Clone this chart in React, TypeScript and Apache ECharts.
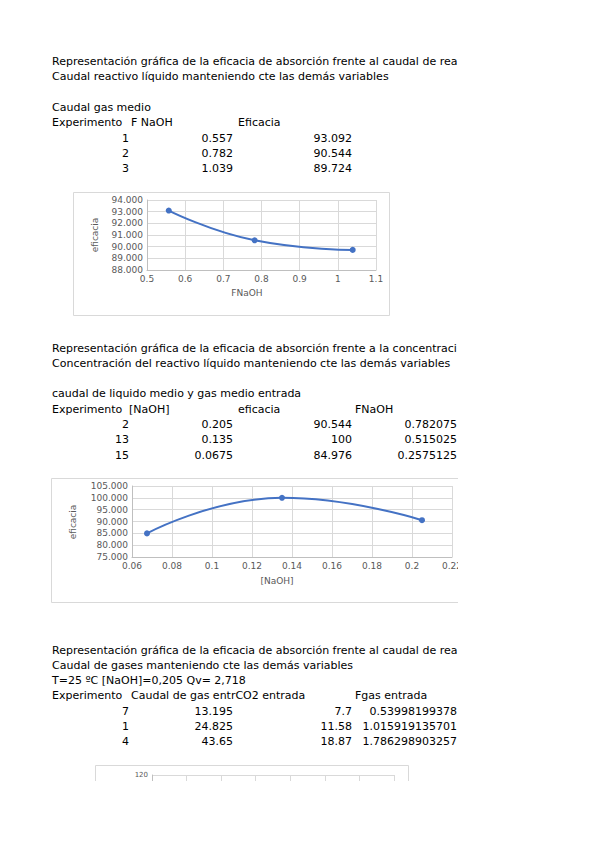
import React, { useEffect, useRef } from 'react'
import * as echarts from 'echarts'

// Sección 1: caudal de reactivo líquido
const exp1 = [1, 2, 3]
const fNaOH1 = [0.557, 0.782, 1.039]
const eficacia1 = [93.092, 90.544, 89.724]

// Sección 2: concentración de reactivo líquido
const exp2 = [2, 13, 15]
const naoh2 = [0.205, 0.135, 0.0675]
const eficacia2 = [90.544, 100, 84.976]
const fNaOH2 = [0.782075, 0.515025, 0.2575125]

// Sección 3: caudal de gases
const exp3 = [7, 1, 4]
const caudalGas3 = [13.195, 24.825, 43.65]
const co2Entrada3 = [7.7, 11.58, 18.87]
const fGas3 = [0.53998199378, 1.015919135701, 1.786298903257]

const FONT = '"DejaVu Sans", sans-serif'
const BLUE = '#4472c4'
const GRID = '#d9d9d9'
const LABEL = '#595959'

const ROW = 15.3
const COL_A = 129
const COL_B = 233
const COL_C = 352
const COL_D = 457

const txt = (text: string, x: number, y: number, align = 'left', size = 11, color = '#000', rotation = 0) => ({
  type: 'text',
  x,
  y,
  rotation,
  silent: true,
  style: {
    text,
    fill: color,
    fontSize: size,
    fontFamily: FONT,
    textAlign: align,
    textVerticalAlign: 'middle'
  }
})

const box = (x: number, y: number, w: number, h: number) => ({
  type: 'rect',
  silent: true,
  shape: { x: x + 0.5, y: y + 0.5, width: w, height: h },
  style: { fill: 'none', stroke: GRID, lineWidth: 1 }
})

const App: React.FC = () => {
  const chartRef = useRef<HTMLDivElement>(null)

  useEffect(() => {
    if (!chartRef.current) return
    const chart = echarts.init(chartRef.current, null, { renderer: 'svg' })

    const s1 = 61.5
    const s2 = 348
    const s3 = 650

    // la hoja está cortada por la derecha: los títulos largos se ven truncados
    const graphic: any[] = [
      // Sección 1
      txt('Representación gráfica de la eficacia de absorción frente al caudal de rea', 52, s1),
      txt('Caudal reactivo líquido manteniendo cte las demás variables', 52, s1 + ROW),
      txt('Caudal gas medio', 52, s1 + ROW * 3),
      txt('Experimento', 52, s1 + ROW * 4),
      txt('F NaOH', 131, s1 + ROW * 4),
      txt('Eficacia', 238, s1 + ROW * 4),
      // Sección 2
      txt('Representación gráfica de la eficacia de absorción frente a la concentraci', 52, s2),
      txt('Concentración del reactivo líquido manteniendo cte las demás variables', 52, s2 + ROW),
      txt('caudal de liquido medio y gas medio entrada', 52, s2 + ROW * 3),
      txt('Experimento', 52, s2 + ROW * 4),
      txt('[NaOH]', 129, s2 + ROW * 4),
      txt('eficacia', 238, s2 + ROW * 4),
      txt('FNaOH', 355, s2 + ROW * 4),
      // Sección 3
      txt('Representación gráfica de la eficacia de absorción frente al caudal de rea', 52, s3),
      txt('Caudal de gases manteniendo cte las demás variables', 52, s3 + ROW),
      txt('T=25 ºC [NaOH]=0,205 Qv= 2,718', 52, s3 + ROW * 2),
      txt('Experimento', 52, s3 + ROW * 3),
      txt('Caudal de gas entrCO2 entrada', 131, s3 + ROW * 3),
      txt('Fgas entrada', 355, s3 + ROW * 3),
      // Marcos de los gráficos
      box(73, 192, 316, 123),
      box(51, 478, 452, 124),
      box(95, 765, 313, 130),
      // Títulos de ejes
      txt('FNaOH', 247, 293, 'center', 9, LABEL),
      txt('eficacia', 95, 235, 'center', 9, LABEL, Math.PI / 2),
      txt('[NaOH]', 277, 581, 'center', 9, LABEL),
      txt('eficacia', 73, 522, 'center', 9, LABEL, Math.PI / 2)
    ]

    exp1.forEach((e, i) => {
      const y = s1 + ROW * (5 + i)
      graphic.push(txt(String(e), COL_A, y, 'right'))
      graphic.push(txt(String(fNaOH1[i]), COL_B, y, 'right'))
      graphic.push(txt(String(eficacia1[i]), COL_C, y, 'right'))
    })
    exp2.forEach((e, i) => {
      const y = s2 + ROW * (5 + i)
      graphic.push(txt(String(e), COL_A, y, 'right'))
      graphic.push(txt(String(naoh2[i]), COL_B, y, 'right'))
      graphic.push(txt(String(eficacia2[i]), COL_C, y, 'right'))
      graphic.push(txt(String(fNaOH2[i]), COL_D, y, 'right'))
    })
    exp3.forEach((e, i) => {
      const y = s3 + ROW * (4 + i)
      graphic.push(txt(String(e), COL_A, y, 'right'))
      graphic.push(txt(String(caudalGas3[i]), COL_B, y, 'right'))
      graphic.push(txt(String(co2Entrada3[i]), COL_C, y, 'right'))
      graphic.push(txt(String(fGas3[i]), COL_D, y, 'right'))
    })

    const valueAxis = (gridIndex: number, min: number, max: number, interval: number, fmt: (v: number) => string, size = 9, showLabel = true) => ({
      type: 'value',
      gridIndex,
      min,
      max,
      interval,
      axisLine: { show: true, lineStyle: { color: '#bfbfbf', width: 1 } },
      axisTick: { show: false },
      splitLine: { show: true, lineStyle: { color: GRID, width: 1 } },
      axisLabel: {
        show: showLabel,
        color: LABEL,
        fontSize: size,
        fontFamily: FONT,
        margin: 4,
        formatter: fmt,
        showMinLabel: true,
        showMaxLabel: true
      }
    })

    const plain = (v: number) => String(Math.round(v * 1000) / 1000)
    const fixed3 = (v: number) => v.toFixed(3)
    // el tercer gráfico queda cortado por el borde de la página: solo se ve 120
    const onlyTop = (v: number) => (v === 120 ? '120' : '')

    const option: any = {
      animation: false,
      backgroundColor: '#fff',
      graphic,
      grid: [
        { left: 147, top: 200, width: 229, height: 70, containLabel: false },
        { left: 132, top: 486, width: 320, height: 71, containLabel: false },
        { left: 152, top: 775, width: 242, height: 70, containLabel: false }
      ],
      xAxis: [
        valueAxis(0, 0.5, 1.1, 0.1, plain),
        valueAxis(1, 0.06, 0.22, 0.02, plain),
        valueAxis(2, 0, 70, 10, plain, 7, false)
      ],
      yAxis: [
        valueAxis(0, 88, 94, 1, fixed3),
        valueAxis(1, 75, 105, 5, fixed3),
        valueAxis(2, 0, 120, 20, onlyTop, 7)
      ],
      series: [
        {
          type: 'line',
          xAxisIndex: 0,
          yAxisIndex: 0,
          data: fNaOH1.map((x, i) => [x, eficacia1[i]]),
          smooth: 0.5,
          symbol: 'circle',
          symbolSize: 6,
          lineStyle: { color: BLUE, width: 2 },
          itemStyle: { color: BLUE }
        },
        {
          type: 'line',
          xAxisIndex: 1,
          yAxisIndex: 1,
          data: naoh2.map((x, i) => [x, eficacia2[i]]),
          smooth: 0.5,
          symbol: 'circle',
          symbolSize: 6,
          lineStyle: { color: BLUE, width: 2 },
          itemStyle: { color: BLUE }
        }
      ]
    }

    chart.setOption(option)
    return () => {
      chart.dispose()
    }
  }, [])

  return (
    <div style={{ position: 'absolute', left: 0, top: 0, width: 599, height: 848, background: '#fff' }}>
      <div style={{ position: 'absolute', left: 0, top: 0, width: 458, height: 781, overflow: 'hidden' }}>
        <div ref={chartRef} style={{ width: 599, height: 848 }} />
      </div>
    </div>
  )
}

export default App
